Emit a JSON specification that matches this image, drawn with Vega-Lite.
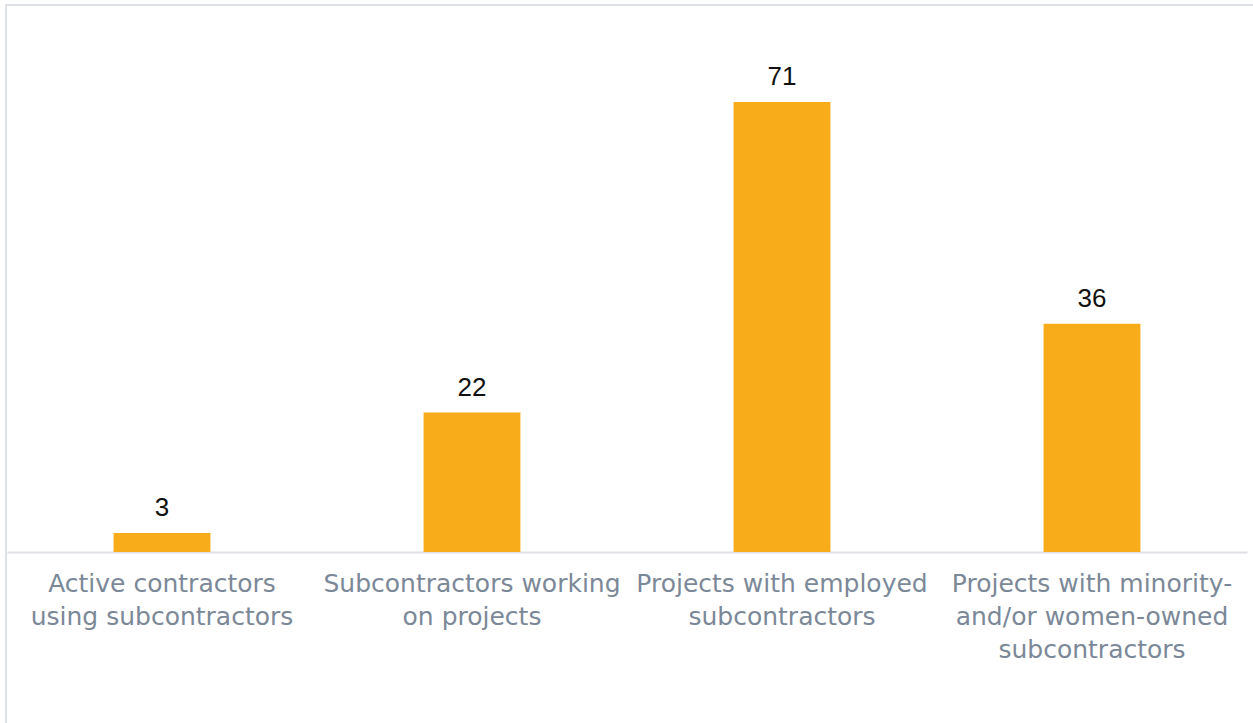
{
  "$schema": "https://vega.github.io/schema/vega-lite/v6.json",
  "autosize": "none",
  "padding": {"left": 6, "top": 5, "right": 0, "bottom": 0},
  "width": 1252,
  "height": 722,
  "background": "white",
  "config": {"view": {"stroke": "#dde1e5", "strokeWidth": 2}},
  "data": {"values": [
    {"category": "Active contractors|using subcontractors", "value": 3},
    {"category": "Subcontractors working|on projects", "value": 22},
    {"category": "Projects with employed|subcontractors", "value": 71},
    {"category": "Projects with minority-|and/or women-owned|subcontractors", "value": 36}
  ]},
  "encoding": {
    "x": {
      "field": "category", "type": "nominal", "sort": null,
      "scale": {"range": [1, 1241], "paddingInner": 0.6876, "paddingOuter": 0.3438},
      "axis": {
        "title": null, "orient": "bottom", "offset": -175,
        "domainColor": "#dde1e5", "domainWidth": 2,
        "ticks": false, "labelAngle": 0, "labelLimit": 0, "labelOverlap": false,
        "labelExpr": "split(datum.label, '|')",
        "labelFont": "DejaVu Sans", "labelFontSize": 25, "labelColor": "#7b8898",
        "labelLineHeight": 33, "labelPadding": 19, "labelBaseline": "top"
      }
    },
    "y": {
      "field": "value", "type": "quantitative",
      "scale": {"domain": [0, 86.3], "range": [547, 0], "nice": false, "zero": true},
      "axis": null
    }
  },
  "layer": [
    {"mark": {"type": "bar", "color": "#f9ac1a"}},
    {"mark": {"type": "text", "font": "Liberation Sans", "fontSize": 26, "color": "#111111", "baseline": "alphabetic", "dy": -17},
     "encoding": {"text": {"field": "value", "type": "quantitative"}}}
  ]
}
